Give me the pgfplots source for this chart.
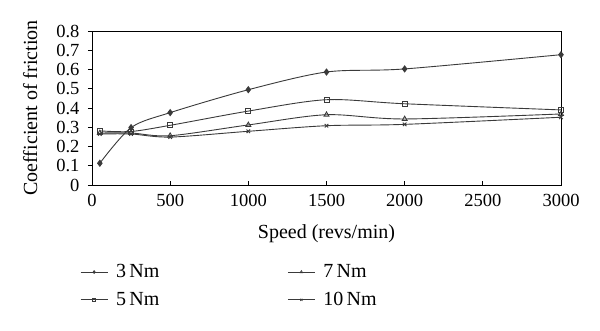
\documentclass[border=0pt]{standalone}
\usepackage{fontspec}
\setmainfont{Liberation Serif}
\usepackage{pgfplots}
\pgfplotsset{compat=1.18}
\definecolor{ln}{HTML}{3A3A3A}
\begin{document}
\begin{tikzpicture}[x=1pt,y=1pt]
\useasboundingbox (0,0) rectangle (600,331);
\begin{axis}[
  at={(92pt,146pt)}, anchor=south west,
  scale only axis, width=469pt, height=154pt,
  xmin=0, xmax=3000, ymin=0, ymax=0.8,
  xtick={0,500,...,3000}, ytick={0,0.1,...,0.8},
  yticklabels={0,0.1,0.2,0.3,0.4,0.5,0.6,0.7,0.8},
  /pgf/number format/assume math mode=true,
  /pgf/number format/1000 sep={},
  xtick pos=bottom, ytick pos=left,
  xtick align=inside, ytick align=outside,
  major tick length=4pt,
  tick style={line width=0.8pt, black},
  tick label style={font=\fontsize{18.5}{20}\selectfont},
  xticklabel style={yshift=-6pt},
  yticklabel style={xshift=-5pt},
  label style={font=\fontsize{20}{22}\selectfont},
  xlabel={Speed (revs/min)}, ylabel={Coefficient of friction},
  ylabel style={at={(axis description cs:-0.132,0.5)}, anchor=center},
  xlabel style={at={(axis description cs:0.5,-0.315)}, anchor=center},
  axis line style={line width=0.9pt, black},
  legend columns=2, transpose legend,
  legend style={draw=none, fill=none, font=\fontsize{20}{22}\selectfont,
    at={(axis description cs:-0.032,-0.49)}, anchor=north west,
    /tikz/every even column/.append style={column sep=126pt},
    /tikz/every odd column/.append style={column sep=6pt},
    row sep=9pt},
  legend cell align=left,
  legend image code/.code={\draw[#1, mark=none, line width=0.9pt] (0pt,0pt) -- (27pt,0pt);
     \path[#1, mark size=1.5pt, line width=0.6pt] plot coordinates {(13.5pt,0pt)};},
]
\addplot[smooth, tension=0.5, line width=0.9pt, color=ln, mark=diamond*, mark size=3pt, mark options={fill=ln, draw=ln}] coordinates {
(50,0.113) (250,0.298) (500,0.376) (1000,0.495) (1500,0.587) (2000,0.603) (3000,0.677)};
\addlegendentry{3\,Nm}
\addplot[smooth, tension=0.5, line width=0.9pt, color=ln, mark=square, mark size=2.5pt, mark options={draw=ln, fill=white}] coordinates {
(50,0.281) (250,0.278) (500,0.310) (1000,0.384) (1500,0.443) (2000,0.422) (3000,0.390)};
\addlegendentry{5\,Nm}
\addplot[smooth, tension=0.5, line width=0.9pt, color=ln, mark=triangle, mark size=2.8pt, mark options={draw=ln, fill=white}] coordinates {
(50,0.270) (250,0.270) (500,0.256) (1000,0.312) (1500,0.365) (2000,0.343) (3000,0.369)};
\addlegendentry{7\,Nm}
\addplot[smooth, tension=0.5, line width=0.9pt, color=ln, mark=x, mark size=2.5pt, mark options={draw=ln}] coordinates {
(50,0.265) (250,0.265) (500,0.249) (1000,0.279) (1500,0.308) (2000,0.315) (3000,0.352)};
\addlegendentry{10\,Nm}
\end{axis}
\end{tikzpicture}
\end{document}
